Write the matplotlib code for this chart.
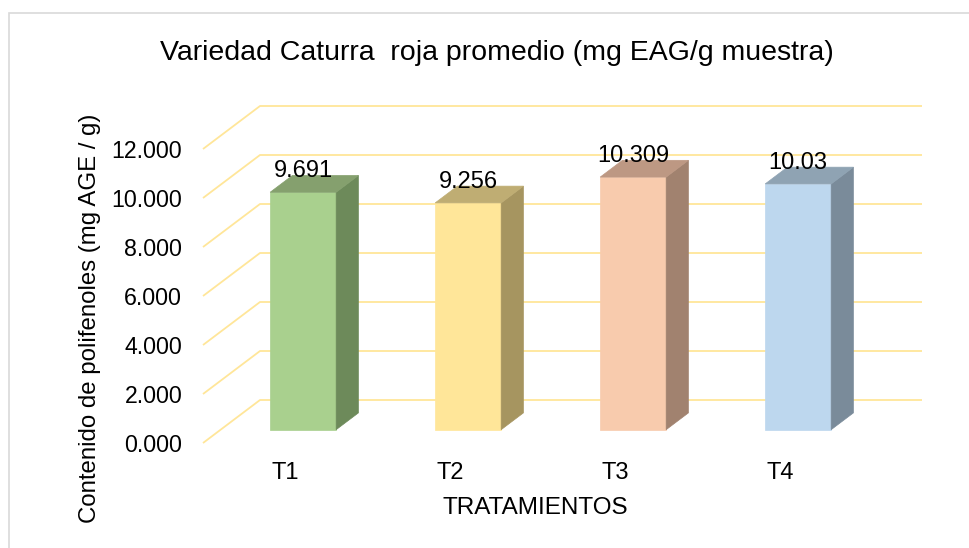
import numpy as np
import matplotlib.pyplot as plt
from matplotlib.patches import Polygon, Rectangle

plt.rcParams['font.family'] = ['Liberation Sans', 'DejaVu Sans']

# -----------------------------
# datos
# -----------------------------
categorias = ["T1", "T2", "T3", "T4"]
valores = [9.691, 9.256, 10.309, 10.03]
etiquetas = ["9.691", "9.256", "10.309", "10.03"]
yticks = [0, 2, 4, 6, 8, 10, 12]
ytick_labels = ["0.000", "2.000", "4.000", "6.000", "8.000", "10.000", "12.000"]

# colores (frente, lado, tapa)
c_frente = ["#A9D08E", "#FFE699", "#F8CBAD", "#BDD7EE"]
c_lado = ["#6D8A5A", "#A69560", "#A1826F", "#7A8B9A"]
c_tapa = ["#85A06E", "#BFAD73", "#BD9883", "#8FA3B3"]
c_grid = "#FFE699"

# -----------------------------
# figura
# -----------------------------
W, H = 970, 548
fig = plt.figure(figsize=(W / 100, H / 100), dpi=100)

# marco gris del grafico
fig.patches.append(Rectangle((9 / W, -0.05), 1.1, 1 - 13 / H + 0.05,
                             transform=fig.transFigure, fill=False,
                             edgecolor="#D9D9D9", linewidth=1.2))

# ejes = plano frontal del "piso"
L, R, B, T = 203, 922, 443, 100
ax = fig.add_axes([L / W, 1 - B / H, (R - L) / W, (B - T) / H])
px_x = 165.0          # pixeles por categoria
px_y = 24.5           # pixeles por unidad
ax.set_xlim(-0.5, -0.5 + (R - L) / px_x)
ax.set_ylim(0, (B - T) / px_y)
for s in ax.spines.values():
    s.set_visible(False)
ax.patch.set_alpha(0)

# profundidad (en unidades de datos)
DX = 57 / px_x
DY = 43 / px_y
f0, f1 = 0.31, 0.70   # frente y fondo de las barras
xmax = ax.get_xlim()[1]

# lineas de cuadricula (pared izquierda + pared de fondo)
for g in yticks:
    ax.plot([-0.5, -0.5 + DX, xmax], [g, g + DY, g + DY], color=c_grid,
            linewidth=1.3, zorder=1, clip_on=False, solid_capstyle="butt")

# barras 3D
hw = 0.2
for i, v in enumerate(valores):
    x0 = i - hw + f0 * DX
    x1 = i + hw + f0 * DX
    y0 = f0 * DY
    sx = (f1 - f0) * DX
    sy = (f1 - f0) * DY
    frente = Polygon([(x0, y0), (x1, y0), (x1, y0 + v), (x0, y0 + v)],
                     closed=True, facecolor=c_frente[i], edgecolor=c_frente[i],
                     linewidth=0.5, zorder=3)
    lado = Polygon([(x1, y0), (x1 + sx, y0 + sy), (x1 + sx, y0 + sy + v), (x1, y0 + v)],
                   closed=True, facecolor=c_lado[i], edgecolor=c_lado[i],
                   linewidth=0.5, zorder=3)
    tapa = Polygon([(x0, y0 + v), (x1, y0 + v), (x1 + sx, y0 + sy + v), (x0 + sx, y0 + sy + v)],
                   closed=True, facecolor=c_tapa[i], edgecolor=c_tapa[i],
                   linewidth=0.5, zorder=3)
    for p in (frente, lado, tapa):
        ax.add_patch(p)
    ax.annotate(etiquetas[i], (i + f0 * DX, y0 + v), xytext=(0, 15),
                textcoords="offset pixels", ha="center", va="baseline",
                fontsize=17, zorder=5)

# ejes
ax.set_xticks(range(len(categorias)))
ax.set_xticklabels(categorias, fontsize=17)
ax.set_yticks(yticks)
ax.set_yticklabels(ytick_labels, fontsize=16.7)
ax.tick_params(length=0)
ax.tick_params(axis="y", pad=15)
ax.tick_params(axis="x", pad=14)
ax.set_xlabel("TRATAMIENTOS", fontsize=17.5)
ax.set_ylabel("Contenido de polifenoles (mg AGE / g)", fontsize=17.3)
ax.xaxis.set_label_coords((535 - L) / (R - L), (B - 497) / (B - T))
ax.yaxis.set_label_coords((101 - L) / (R - L), (B - 318) / (B - T))

fig.text(497 / W, 1 - 53 / H, "Variedad Caturra  roja promedio (mg EAG/g muestra)",
         ha="center", va="center", fontsize=20.5)

fig.savefig("out.png", dpi=100)
